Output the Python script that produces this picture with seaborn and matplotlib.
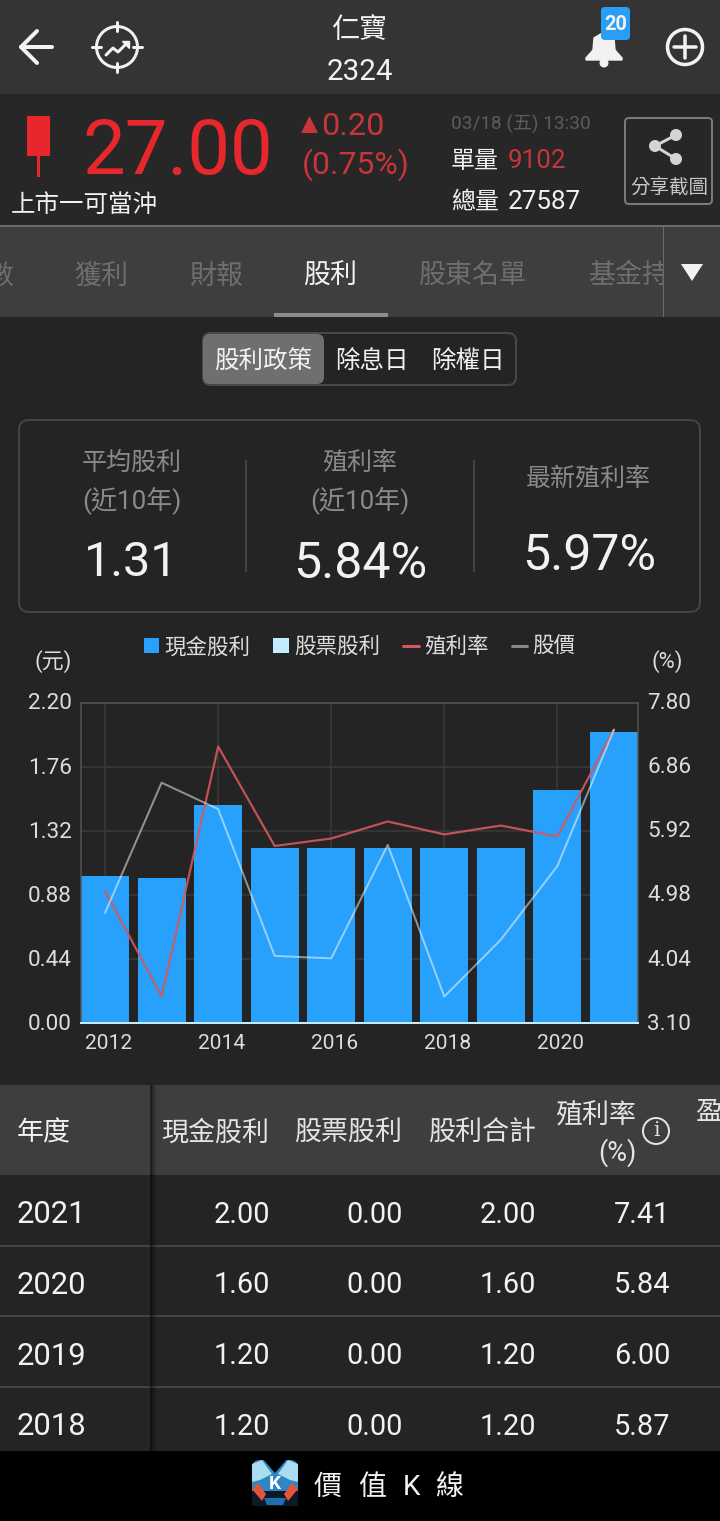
import numpy as np
import matplotlib
matplotlib.use('Agg')
import matplotlib.pyplot as plt
import matplotlib.transforms as mtrans
from matplotlib.patches import Rectangle, FancyBboxPatch, Circle, Polygon, Patch
from matplotlib.lines import Line2D
import seaborn as sns

# ── DATA ──────────────────────────────────────────────────────
years = ['2012', '2013', '2014', '2015', '2016', '2017', '2018', '2019', '2020', '2021']
cash_dividend = [1.01, 1.00, 1.50, 1.20, 1.20, 1.20, 1.20, 1.20, 1.60, 2.00]
stock_dividend = [0.00, 0.00, 0.00, 0.00, 0.00, 0.00, 0.00, 0.00, 0.00, 0.00]
total_dividend = [1.01, 1.00, 1.50, 1.20, 1.20, 1.20, 1.20, 1.20, 1.60, 2.00]
yield_rate = [5.04, 3.49, 7.16, 5.70, 5.81, 6.06, 5.87, 6.00, 5.84, 7.41]
price = [22.5, 25.7, 25.05, 21.44, 21.38, 24.17, 20.44, 21.84, 23.65, 27.0]

left_ticks = [0.00, 0.44, 0.88, 1.32, 1.76, 2.20]
right_ticks = [3.10, 4.04, 4.98, 5.92, 6.86, 7.80]
legend_labels = ['現金股利', '股票股利', '殖利率', '股價']
table_headers = ['現金股利', '股票股利', '股利合計']
tab_labels = ['數', '獲利', '財報', '股利', '股東名單', '基金持']
tab_centers = [0, 101, 216, 330, 472, 628.5]

# ── COLORS ────────────────────────────────────────────────────
BODY = '#242424'
HEADER = '#343434'
QUOTE = '#272727'
TAB = '#3e3e3e'
RED = '#e8272d'
DIM_RED = '#c8353b'
BLUE = '#27a1fb'
LIGHT_BLUE = '#c4ecff'
WHITE = '#f2f2f2'
GREY = '#8a8a8a'

sns.set_theme(style='dark')
plt.rcParams['font.family'] = ['Roboto', 'Noto Sans CJK TC', 'DejaVu Sans']
plt.rcParams['axes.unicode_minus'] = False

fig = plt.figure(figsize=(7.2, 15.21), dpi=100, facecolor=BODY)

# page layer, in pixel coordinates
bg = fig.add_axes([0, 0, 1, 1])
bg.set_xlim(0, 720)
bg.set_ylim(1521, 0)
bg.axis('off')


def px(v):
    return v * 0.72


def T(x, y, s, size, color=WHITE, ha='left', z=5, **kw):
    # va=center sits a little high for these fonts
    return bg.text(x, y + size * 0.09, s, fontsize=px(size), color=color, ha=ha, va='center', zorder=z, **kw)


def R(x0, y0, x1, y1, color, z=1, **kw):
    bg.add_patch(Rectangle((x0, y0), x1 - x0, y1 - y0, facecolor=color, edgecolor='none', zorder=z, **kw))


def L(xs, ys, color=WHITE, w=3, z=4, **kw):
    bg.plot(xs, ys, color=color, lw=px(w), zorder=z, solid_capstyle=kw.pop('cap', 'round'),
            solid_joinstyle='round', **kw)


def box(x0, y0, x1, y1, r, face='none', edge='none', w=2, z=2):
    bg.add_patch(FancyBboxPatch((x0 + r, y0 + r), x1 - x0 - 2 * r, y1 - y0 - 2 * r,
                                boxstyle=f'round,pad={r},rounding_size={r}',
                                facecolor=face, edgecolor=edge, lw=px(w), zorder=z))


# ── TOP BAR ───────────────────────────────────────────────────
R(0, 0, 720, 94, HEADER)
L([21, 52], [47, 47], w=4)
L([37, 21, 37], [31, 47, 63], w=4)
bg.add_patch(Circle((117, 47), 20.5, fill=False, ec=WHITE, lw=px(3), zorder=4))
for dx, dy in [(0, -1), (0, 1), (-1, 0), (1, 0)]:
    L([117 + dx * 16, 117 + dx * 25], [47 + dy * 16, 47 + dy * 25], w=3)
L([106, 113, 118, 126], [55, 48, 52, 44], w=3)
bg.add_patch(Polygon([[122, 41], [129, 41], [129, 48]], fc=WHITE, ec=WHITE, lw=1, zorder=4))

T(360, 28, '仁寶', 28, ha='center')
T(360, 69, '2324', 29.5, ha='center')

# bell and badge
bg.add_patch(Polygon([[586, 60], [622, 60], [622, 58], [615, 50], [614, 38], [604, 32], [594, 38], [593, 50], [586, 58]],
                     fc=WHITE, ec=WHITE, lw=1, zorder=3))
bg.add_patch(Circle((604, 63), 4.5, fc=WHITE, ec='none', zorder=3))
box(601, 7, 630, 40, 4, face='#2a9df4', z=4)
T(615.5, 23, '20', 20, ha='center', z=5, fontweight='bold')
bg.add_patch(Circle((685, 47), 17.5, fill=False, ec=WHITE, lw=px(3.5), zorder=4))
L([674, 696], [47, 47], w=3.5)
L([685, 685], [36, 58], w=3.5)

# ── QUOTE PANEL ───────────────────────────────────────────────
R(0, 94, 720, 226, QUOTE)
R(0, 225, 720, 227, '#6a6a6a', z=2)
R(27, 116, 50, 156, RED, z=3)
R(37, 156, 39.5, 177, RED, z=3)
T(83, 147, '27.00', 76, RED)
bg.add_patch(Polygon([[301, 133], [318, 133], [309.5, 116]], fc=DIM_RED, ec='none', zorder=4))
T(321, 124, '0.20', 32.5, DIM_RED)
T(302, 162, '(0.75%)', 32, DIM_RED)
T(451, 123, '03/18 (五) 13:30', 19, '#5c5c5c')
T(451, 159, '單量', 24)
T(508, 159, '9102', 26, DIM_RED)
T(451, 200, '總量', 24)
T(508, 200, '27587', 26)
T(11, 203, '上市一可當沖', 24.5)

box(625, 118, 712, 204, 4, edge='#7a7a7a', w=2)
for cx, cy in [(676, 135), (655, 146), (676, 159)]:
    bg.add_patch(Circle((cx, cy), 6, fc='#d4d4d4', ec='none', zorder=4))
L([676, 655, 676], [135, 146, 159], color='#d4d4d4', w=3)
T(669, 186, '分享截圖', 19.5, '#c8c8c8', ha='center')

# ── TABS ──────────────────────────────────────────────────────
R(0, 227, 720, 317, TAB)
for label, cx in zip(tab_labels, tab_centers):
    T(cx, 273.5, label, 27, WHITE if label == '股利' else '#6e6e6e', ha='center', z=3)
R(663, 227, 720, 317, TAB, z=4)
R(662.5, 227, 664, 317, '#6a6a6a', z=5)
bg.add_patch(Polygon([[681, 264], [703, 264], [692, 281]], fc=WHITE, ec='none', zorder=5))
R(274, 313, 388, 317, '#8c8c8c', z=3)

# ── SEGMENT BUTTONS ───────────────────────────────────────────
box(203, 333, 516, 385, 8, edge='#484848', w=2)
box(203, 334, 324, 384, 7, face='#6f6f6f', z=3)
T(263, 360, '股利政策', 24.5, ha='center')
T(372, 360, '除息日', 24.5, ha='center')
T(468, 360, '除權日', 24.5, ha='center')

# ── SUMMARY PANEL ─────────────────────────────────────────────
box(19, 420, 700, 612, 10, edge='#454545', w=2)
R(245, 460, 246.5, 572, '#454545', z=3)
R(473, 460, 474.5, 572, '#454545', z=3)
T(132, 461, '平均股利', 25, GREY, ha='center')
T(132, 499, '(近10年)', 26, GREY, ha='center')
T(131, 559, '1.31', 48.5, ha='center')
T(360, 461, '殖利率', 25, GREY, ha='center')
T(360, 499, '(近10年)', 26, GREY, ha='center')
T(360.5, 559, '5.84%', 50, ha='center')
T(588, 477, '最新殖利率', 25, GREY, ha='center')
T(589, 552, '5.97%', 50, ha='center')

# ── CHART ─────────────────────────────────────────────────────
ax = fig.add_axes([81 / 720, 1 - 1023 / 1521, 557 / 720, 320 / 1521], facecolor='none')
sns.barplot(x=years, y=cash_dividend, color=BLUE, saturation=1, width=0.852, linewidth=0, ax=ax, zorder=2)
sns.barplot(x=years, y=stock_dividend, bottom=cash_dividend, color=LIGHT_BLUE, saturation=1,
            width=0.852, linewidth=0, ax=ax, zorder=2)
ax.set_xlim(-0.426, 9.426)
ax.set_ylim(0, 2.2)
ax.set_xlabel('')
ax.set_ylabel('')
ax.set_xticks(range(0, 10, 2))
ax.set_xticklabels(years[::2])
ax.set_yticks(left_ticks)
ax.set_yticklabels([f'{v:.2f}' for v in left_ticks])
ax.set_axisbelow(True)
ax.grid(True, color='#3a3a3a', lw=px(1.5))
ax.tick_params(axis='x', length=0, pad=px(11), labelsize=px(21), labelcolor='#dddddd')
ax.tick_params(axis='y', length=0, pad=px(9), labelsize=px(22.5), labelcolor='#dddddd')
shift = mtrans.ScaledTranslation(3 / 100, 0, fig.dpi_scale_trans)
for lab in ax.get_xticklabels():
    lab.set_transform(lab.get_transform() + shift)
lift = mtrans.ScaledTranslation(0, 1.5 / 100, fig.dpi_scale_trans)
for lab in ax.get_yticklabels():
    lab.set_transform(lab.get_transform() + lift)
for side in ['top', 'left', 'right']:
    ax.spines[side].set_color('#555555')
    ax.spines[side].set_linewidth(px(1.5))
ax.spines['bottom'].set_color(LIGHT_BLUE)
ax.spines['bottom'].set_linewidth(px(2))

x_pos = np.arange(len(years))

ax_yield = ax.twinx()
sns.lineplot(x=x_pos, y=yield_rate, color='#d4585c', alpha=0.9, lw=px(2.2), errorbar=None, ax=ax_yield)
ax_yield.set_ylim(3.1, 7.8)
ax_yield.set_yticks(right_ticks)
ax_yield.set_yticklabels([f'{v:.2f}' for v in right_ticks])
ax_yield.set_ylabel('')
ax_yield.grid(False)
ax_yield.tick_params(axis='y', length=0, pad=px(9.5), labelsize=px(22.5), labelcolor='#dddddd')
for lab in ax_yield.get_yticklabels():
    lab.set_transform(lab.get_transform() + lift)
ax_yield.spines[:].set_visible(False)

# price has its own hidden scale
ax_price = ax.twinx()
sns.lineplot(x=x_pos, y=price, color='white', alpha=0.5, lw=px(2), errorbar=None, ax=ax_price)
ax_price.set_ylim(19.79, 27.66)
ax_price.set_ylabel('')
ax_price.set_yticks([])
ax_price.grid(False)
ax_price.spines[:].set_visible(False)
ax_price.set_xlim(-0.426, 9.426)

handles = [Patch(fc=BLUE, ec='none'), Patch(fc=LIGHT_BLUE, ec='none'),
           Line2D([], [], color='#d4585c', lw=px(3)), Line2D([], [], color='#8a8a8a', lw=px(3))]
ax.legend(handles, legend_labels, loc='center', bbox_to_anchor=(359.5 / 720, 1 - 647 / 1521),
          bbox_transform=fig.transFigure, ncol=4, frameon=False, fontsize=px(21.5),
          handlelength=0.72, handleheight=0.7, handletextpad=0.25, columnspacing=1.07,
          labelcolor='#dddddd', borderpad=0)
T(53, 660, '(元)', 22, '#dddddd', ha='center')
T(667, 660, '(%)', 22, '#dddddd', ha='center')

# ── TABLE ─────────────────────────────────────────────────────
R(0, 1085, 720, 1175, TAB)
T(17, 1131, '年度', 27)
for label, right in zip(table_headers, [269, 402, 536]):
    T(right, 1131, label, 27, '#e4e4e4', ha='right')
T(636, 1114, '殖利率', 27, '#e4e4e4', ha='right')
T(617, 1150, '(%)', 27, '#e4e4e4', ha='center')
bg.add_patch(Circle((656, 1131), 13, fill=False, ec='#e4e4e4', lw=px(2), zorder=4))
bg.text(656, 1131, 'i', fontsize=px(20), color='#e4e4e4', ha='center', va='center',
        family='DejaVu Serif', zorder=5)
T(695, 1110, '盈', 27, '#e4e4e4')

for row, i in enumerate(range(len(years) - 1, len(years) - 5, -1)):
    cy = 1212 + row * 70.7
    T(17, cy, years[i], 31)
    T(270, cy, f'{cash_dividend[i]:.2f}', 29, ha='right')
    T(403, cy, f'{stock_dividend[i]:.2f}', 29, ha='right')
    T(536, cy, f'{total_dividend[i]:.2f}', 29, ha='right')
    T(670, cy, f'{yield_rate[i]:.2f}', 29, ha='right')
    if row < 3:
        R(0, cy + 32.5, 720, cy + 34.5, '#444444', z=2)

# frozen column shadow
for k, a in enumerate([0.5, 0.35, 0.22, 0.1]):
    R(150 + k * 1.5, 1085, 151.5 + k * 1.5, 1451, 'black', z=3, alpha=a)

# ── FOOTER ────────────────────────────────────────────────────
R(0, 1451, 720, 1521, 'black', z=6)
box(252, 1460, 298, 1505, 8, face='#2f86c4', z=7)
bg.add_patch(Polygon([[252, 1464], [262, 1460], [272, 1474], [260, 1480], [252, 1482]], fc='#a8dcee', ec='none', zorder=8))
bg.add_patch(Polygon([[298, 1464], [288, 1460], [278, 1474], [290, 1480], [298, 1482]], fc='#a8dcee', ec='none', zorder=8))
bg.add_patch(Polygon([[262, 1458], [288, 1458], [275, 1473]], fc='black', ec='none', zorder=8))
R(252, 1491, 298, 1506, '#0c1a26', z=7.5)
bg.add_patch(Polygon([[252, 1489], [258, 1483], [266, 1494], [262, 1501]], fc='#e5533a', ec='none', zorder=8))
bg.add_patch(Polygon([[298, 1489], [292, 1483], [284, 1494], [288, 1501]], fc='#e5533a', ec='none', zorder=8))
bg.add_patch(Polygon([[264, 1498], [286, 1498], [283, 1505], [267, 1505]], fc='#1f6fb0', ec='none', zorder=8))
bg.text(275, 1484, 'K', fontsize=px(19), color='white', fontweight='bold', ha='center', va='center', zorder=9)
for s, cx in zip(['價', '值', 'K', '線'], [327, 372, 411.5, 449.5]):
    T(cx, 1485, s, 28, ha='center', z=7)

plt.savefig('out.png', dpi=100, facecolor=fig.get_facecolor())
plt.close()
